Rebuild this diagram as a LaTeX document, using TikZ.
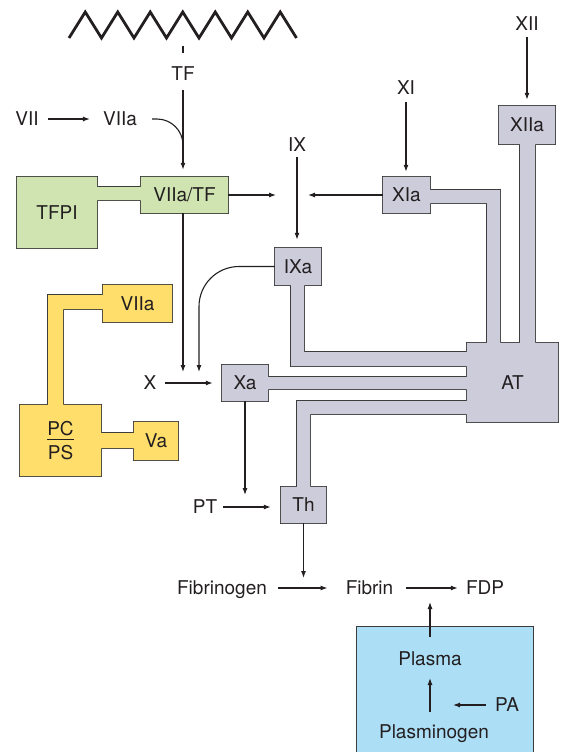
\documentclass[tikz,border=0pt]{standalone}
\usepackage{fontspec}
\setmainfont{TeX Gyre Heros}
\usetikzlibrary{arrows.meta,backgrounds}
\definecolor{cfInk}{HTML}{231F20}
\definecolor{cfEdge}{HTML}{3C3C3C}
\definecolor{cfGray}{HTML}{CDCCDA}
\definecolor{cfGreen}{HTML}{CFE4B1}
\definecolor{cfYellow}{HTML}{FFDE6B}
\definecolor{cfBlue}{HTML}{ACDEF6}
\tikzset{
  tag/.style={font=\fontsize{19}{22}\selectfont,text=cfInk,inner sep=0pt},
  factor/.style={tag,text height=13.6pt,text depth=0pt},
  enzyme/.style 2 args={factor,minimum width=#1pt,minimum height=#2pt},
  region/.style={fill=#1,preaction={draw=cfEdge,line width=2.4pt}},
  link/.style={line width=1.1pt,draw=cfInk},
  arrow/.style={link,-{Latex[length=7pt,width=5pt]}},
  membrane/.style={line width=2.8pt,draw=cfInk,line join=miter}
}

\begin{document}
\begin{tikzpicture}[x=1pt,y=-1pt]
  \useasboundingbox (0,0) rectangle (561,752);
  % cell membrane
  \draw[membrane] (69,38) \foreach \k in {1,...,7} { -- ++(16.25,-26) -- ++(16.25,26) };
  \coordinate (mem) at (183,46);
  \coordinate (tick) at (183,53);

  \node[factor] (tf) at (183,74) {TF};
  \node[factor] (vii) at (27,119) {VII};
  \node[factor] (viia) at (120,119) {VIIa};
  \node[enzyme={87}{36}] (vtf) at (184.5,195) {VIIa/TF};
  \node[enzyme={80}{71}] (tfpi) at (57,212.5) {TFPI};
  \node[factor] (ix) at (297,145) {IX};
  \node[factor] (xi) at (406,88) {XI};
  \node[factor] (xii) at (527,24) {XII};
  \node[enzyme={56}{38}] (xiia) at (527,125) {XIIa};
  \node[enzyme={47}{36}] (xia) at (406.5,195) {XIa};
  \node[enzyme={46}{37}] (ixa) at (298,266.5) {IXa};
  \node[enzyme={46}{36}] (xa) at (245,383) {Xa};
  \node[enzyme={45}{36}] (th) at (303.5,505) {Th};
  \node[enzyme={91}{79}] (at) at (512.5,382.5) {AT};
  \node[enzyme={69}{37}] (viib) at (137.5,303.5) {VIIa};
  \node[enzyme={44}{38}] (va) at (156,441) {Va};
  \node[tag,minimum width=81pt,minimum height=71pt] (pcps) at (60.5,440.5)
    {\vbox{\hbox to 27pt{\hss PC\hss}\kern2.5pt\hrule height 1pt\kern5.5pt\hbox to 27pt{\hss PS\hss}}};
  \node[factor] (x) at (150,383) {X};
  \node[factor] (pt) at (205,507) {PT};
  \node[factor] (fbg) at (222,588) {Fibrinogen};
  \node[factor] (fbn) at (369.5,588) {Fibrin};
  \node[factor] (fdp) at (485,588) {FDP};
  \node[minimum width=176pt,minimum height=133pt,inner sep=0pt] (lysis) at (445,693.5) {};
  \node[factor] (plasma) at (430,659) {Plasma};
  \node[factor] (plg) at (434,732) {Plasminogen};
  \node[factor] (pa) at (507,705) {PA};

  \coordinate (join) at (183,145);
  \coordinate (vtfout) at (276,195);
  \coordinate (xiaout) at (308,195);
  \coordinate (xin1) at (183,372);
  \coordinate (xin2) at (199,372);
  \coordinate (ptin) at (245,495);
  \coordinate (fbnin) at (303.5,578);
  \coordinate (pain) at (453,705);

  \begin{scope}[on background layer]
    \path[region=cfBlue] (lysis.south west) rectangle (lysis.north east);
    \path[region=cfGreen] (tfpi.south west) rectangle (tfpi.north east)
      (97,187) rectangle (141,200) (vtf.south west) rectangle (vtf.north east);
    \path[region=cfYellow] (viib.south west) rectangle (viib.north east)
      (48,295) rectangle (103,309) (48,295) rectangle (63,405)
      (pcps.south west) rectangle (pcps.north east)
      (101,433) rectangle (134,448) (va.south west) rectangle (va.north east);
    \path[region=cfGray] (xiia.south west) rectangle (xiia.north east)
      (520,144) rectangle (535,343)
      (xia.south west) rectangle (xia.north east)
      (430,190) rectangle (500,203) (487,190) rectangle (500,343)
      (ixa.south west) rectangle (ixa.north east)
      (291,285) rectangle (304,366) (291,352) rectangle (467,366)
      (xa.south west) rectangle (xa.north east)
      (268,377) rectangle (467,389)
      (297,401) rectangle (467,414) (297,401) rectangle (310,487)
      (th.south west) rectangle (th.north east)
      (at.south west) rectangle (at.north east);
  \end{scope}

  \draw[link] (mem) -- (tick);
  \draw[arrow,shorten <=9pt,shorten >=7pt] (tf.south) -- (tf.south |- vtf.north);
  \draw[arrow,shorten <=9pt,shorten >=13pt] (vii) -- (viia);
  \draw[link,rounded corners=26pt,shorten <=15pt] (viia.east) -| (join);
  \draw[arrow] (vtf.east) -- (vtfout);
  \draw[arrow] (xia.west) -- (xiaout);
  \draw[arrow,shorten <=5pt,shorten >=8pt] (ix.south) -- (ix.south |- ixa.north);
  \draw[arrow,shorten <=7pt,shorten >=5pt] (xi.south) -- (xi.south |- xia.north);
  \draw[arrow,shorten <=6pt,shorten >=6pt] (xii) -- (xiia);
  \draw[arrow] (vtf.south -| tf) -- (xin1);
  \draw[arrow,rounded corners=40pt] (ixa.west) -| (xin2);
  \draw[arrow,shorten <=8pt,shorten >=9pt] (x) -- (xa);
  \draw[arrow] (xa.south) -- (ptin);
  \draw[arrow,shorten <=6pt,shorten >=10pt] (pt.east) -- (pt.east -| th.west);
  \draw[arrow] (th.south) -- (fbnin);
  \draw[arrow,shorten <=11pt,shorten >=18pt] (fbg) -- (fbn);
  \draw[arrow,shorten <=13pt,shorten >=8pt] (fbn) -- (fdp);
  \draw[arrow,shorten <=15pt,shorten >=7pt] (plasma.north) -- (plasma.north |- fbn.south);
  \draw[arrow,shorten <=13pt,shorten >=12pt] (plasma.south |- plg.north) -- (plasma.south);
  \draw[arrow,shorten <=9pt] (pa.west) -- (pain);
\end{tikzpicture}
\end{document}
